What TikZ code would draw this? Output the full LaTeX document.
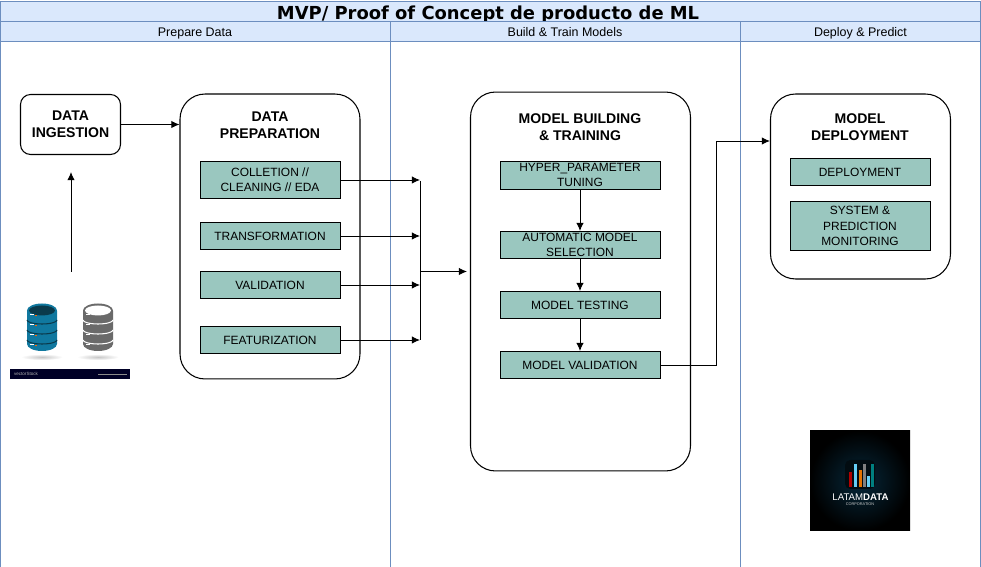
\documentclass[tikz,border=0pt]{standalone}
\usepackage{fontspec}
\setmainfont{Liberation Sans}
\newfontfamily\titlefont{DejaVu Sans}
\usetikzlibrary{arrows.meta}
\definecolor{lanefill}{HTML}{DAE8FC}
\definecolor{laneline}{HTML}{6C8EBF}
\definecolor{tealfill}{HTML}{9AC7BF}
\definecolor{dbblue}{HTML}{10789F}
\definecolor{dbdark}{HTML}{0A3A4C}
\definecolor{dbgrey}{HTML}{6A6A6A}
\definecolor{logoglow}{HTML}{06283A}

\begin{document}
\begin{tikzpicture}[
    x=0.02cm, y=-0.02cm, line width=0.55pt,
    lane/.style={draw=laneline, line width=0.4pt, fill=lanefill, inner sep=0pt, text height=6.2pt, text depth=0pt, font=\fontsize{7.1}{8}\selectfont},
    body/.style={draw=laneline, line width=0.4pt, inner sep=0pt},
    block/.style={draw, rounded corners=0.5cm, line width=0.6pt, inner sep=0pt, align=center, font=\fontsize{8}{9.6}\selectfont\bfseries},
    stagebox/.style={draw, fill=tealfill, inner sep=0pt, align=center, font=\fontsize{6.8}{8.7}\selectfont},
    heading/.style={inner sep=0pt, align=center, font=\fontsize{8}{9.6}\selectfont\bfseries},
    >={LaTeX[length=4.6pt,width=4.2pt]}
    ]
\useasboundingbox (0,0) rectangle (981,567);

% swimlanes
\node[lane, minimum width=19.6cm, minimum height=0.4cm, text height=9.8pt, font=\titlefont\fontsize{10.2}{11}\selectfont\bfseries] (title) at (490.5,11) {MVP/ Proof of Concept de producto de ML\hspace*{2.8pt}};
\node[body, minimum width=7.8cm, minimum height=10.52cm] (bodyA) at (195,304) {};
\node[body, minimum width=7cm, minimum height=10.52cm] (bodyB) at (565,304) {};
\node[body, minimum width=4.8cm, minimum height=10.52cm] (bodyC) at (860.5,304) {};
\node[lane, minimum width=7.8cm, minimum height=0.4cm] (laneA) at (195,31) {Prepare Data};
\node[lane, minimum width=7cm, minimum height=0.4cm] (laneB) at (565,31) {Build \& Train Models};
\node[lane, minimum width=4.8cm, minimum height=0.4cm] (laneC) at (860.5,31) {Deploy \& Predict};

% big blocks
\node[block, rounded corners=0.2cm, minimum width=2cm, minimum height=1.2cm] (ingest) at (70.5,124.5) {DATA\\INGESTION};
\node[block, minimum width=3.6cm, minimum height=5.7cm] (prep) at (270,236.5) {};
\node[block, minimum width=4.4cm, minimum height=7.58cm] (train) at (580.5,281.5) {};
\node[block, minimum width=3.6cm, minimum height=3.7cm] (deploy) at (860.5,186.5) {};
\node[heading] (prepT) at (270,125.5) {DATA\\PREPARATION};
\node[heading] (trainT) at (580,127) {MODEL BUILDING\\\& TRAINING};
\node[heading] (deployT) at (860,127) {MODEL\\DEPLOYMENT};

% teal boxes
\node[stagebox, minimum width=2.8cm, minimum height=0.74cm] (collect) at (270,180) {COLLETION //\\CLEANING // EDA};
\node[stagebox, minimum width=2.8cm, minimum height=0.54cm] (transf) at (270,236) {TRANSFORMATION};
\node[stagebox, minimum width=2.8cm, minimum height=0.54cm] (valid) at (270,285) {VALIDATION};
\node[stagebox, minimum width=2.8cm, minimum height=0.54cm] (feat) at (270,340) {FEATURIZATION};
\node[stagebox, minimum width=3.2cm, minimum height=0.56cm] (hyper) at (580,175) {HYPER\_PARAMETER\\TUNING};
\node[stagebox, minimum width=3.2cm, minimum height=0.54cm] (auto) at (580,245) {AUTOMATIC MODEL\\SELECTION};
\node[stagebox, minimum width=3.2cm, minimum height=0.54cm] (mtest) at (580,305) {MODEL TESTING};
\node[stagebox, minimum width=3.2cm, minimum height=0.54cm] (mvalid) at (580,365) {MODEL VALIDATION};
\node[stagebox, minimum width=2.8cm, minimum height=0.54cm] (depl) at (860,172) {DEPLOYMENT};
\node[stagebox, minimum width=2.8cm, minimum height=0.98cm] (sysmon) at (860,226) {SYSTEM \&\\PREDICTION\\MONITORING};

% database picture
\foreach \dx/\bodycol/\topcol/\linecol in {27/dbblue/dbdark/dbdark, 83/dbgrey/white/white}{
    \begin{scope}[shift={(\dx,0)}]
    \shade[inner color=black!22, outer color=white] (15,357) ellipse (21 and 3);
    \fill[\bodycol] (0,311)--(0,344) arc[start angle=180, end angle=0, x radius=15, y radius=7]--(30,311)--cycle;
    \fill[\bodycol] (15,310.5) ellipse (15 and 7);
    \fill[\topcol] (15,310.5) ellipse (13 and 5);
    \foreach \yy in {320,330,340}
        \draw[\linecol, line width=0.6pt] (0,\yy) arc[start angle=180, end angle=0, x radius=15, y radius=4];
    \foreach \yy in {314,324,334,344}
        \fill[white] (3,\yy) rectangle (7,\yy+1.5);
    \end{scope}
}
\foreach \yy in {314,324,334,344}
    \fill[orange!80!red] (34.5,\yy+1) rectangle (37,\yy+2.5);

% stock banner
\node[fill=black!85!blue, minimum width=2.4cm, minimum height=0.2cm, inner sep=0pt] (banner) at (70,374) {};
\node[text=white!70!black, inner sep=0pt, font=\fontsize{2.6}{3}\selectfont] (bannerT) at (26,374) {vectorStock};
\draw[white!55!black, line width=0.3pt] (98,374.5)--(127,374.5);

% logo picture
\shade[inner color=logoglow, outer color=black] (810,431) rectangle (910,531);
\fill[black!70!logoglow, rounded corners=3pt] (845,460) rectangle (875,489);
\foreach \bx/\by/\bcol in {850/472/red!70!black, 855/464/cyan!60!white, 860/470/orange!90!black, 864/464/gray, 868/476/cyan!60!white, 872/464/teal}
    \fill[\bcol] (\bx-1.5,\by) rectangle (\bx+1.5,487);
\node[text=white, inner sep=0pt, font=\fontsize{5.5}{6}\selectfont] (logoT) at (860.5,497.5) {LATAM\textbf{DATA}};
\node[text=white!80!black, inner sep=0pt, font=\fontsize{2.2}{3}\selectfont] (logoS) at (860,504.5) {CORPORATION};

% connectors
\coordinate (dbtop) at (71,272);
\coordinate (up) at (71,172);
\draw[->] (dbtop)--(up);
\draw[->] (ingest.east)--(ingest.east-|prep.west);

\coordinate (busA) at (420,181);
\coordinate (busB) at (420,340);
\coordinate (busC) at (420,271.5);
\coordinate (trainIn) at (467,271.5);
\draw (busA)--(busB);
\draw[->] (busC)--(trainIn);
\foreach \i in {collect, transf, valid, feat}
    \draw[->] (\i.east)--(\i.east-|busA);

\foreach \i/\j in {hyper/auto, auto/mtest, mtest/mvalid}
    \draw[->] (\i)--(\j);

\coordinate (turn) at (716,141);
\draw[->] (mvalid.east)-|(turn)--(turn-|deploy.west);
\end{tikzpicture}
\end{document}
